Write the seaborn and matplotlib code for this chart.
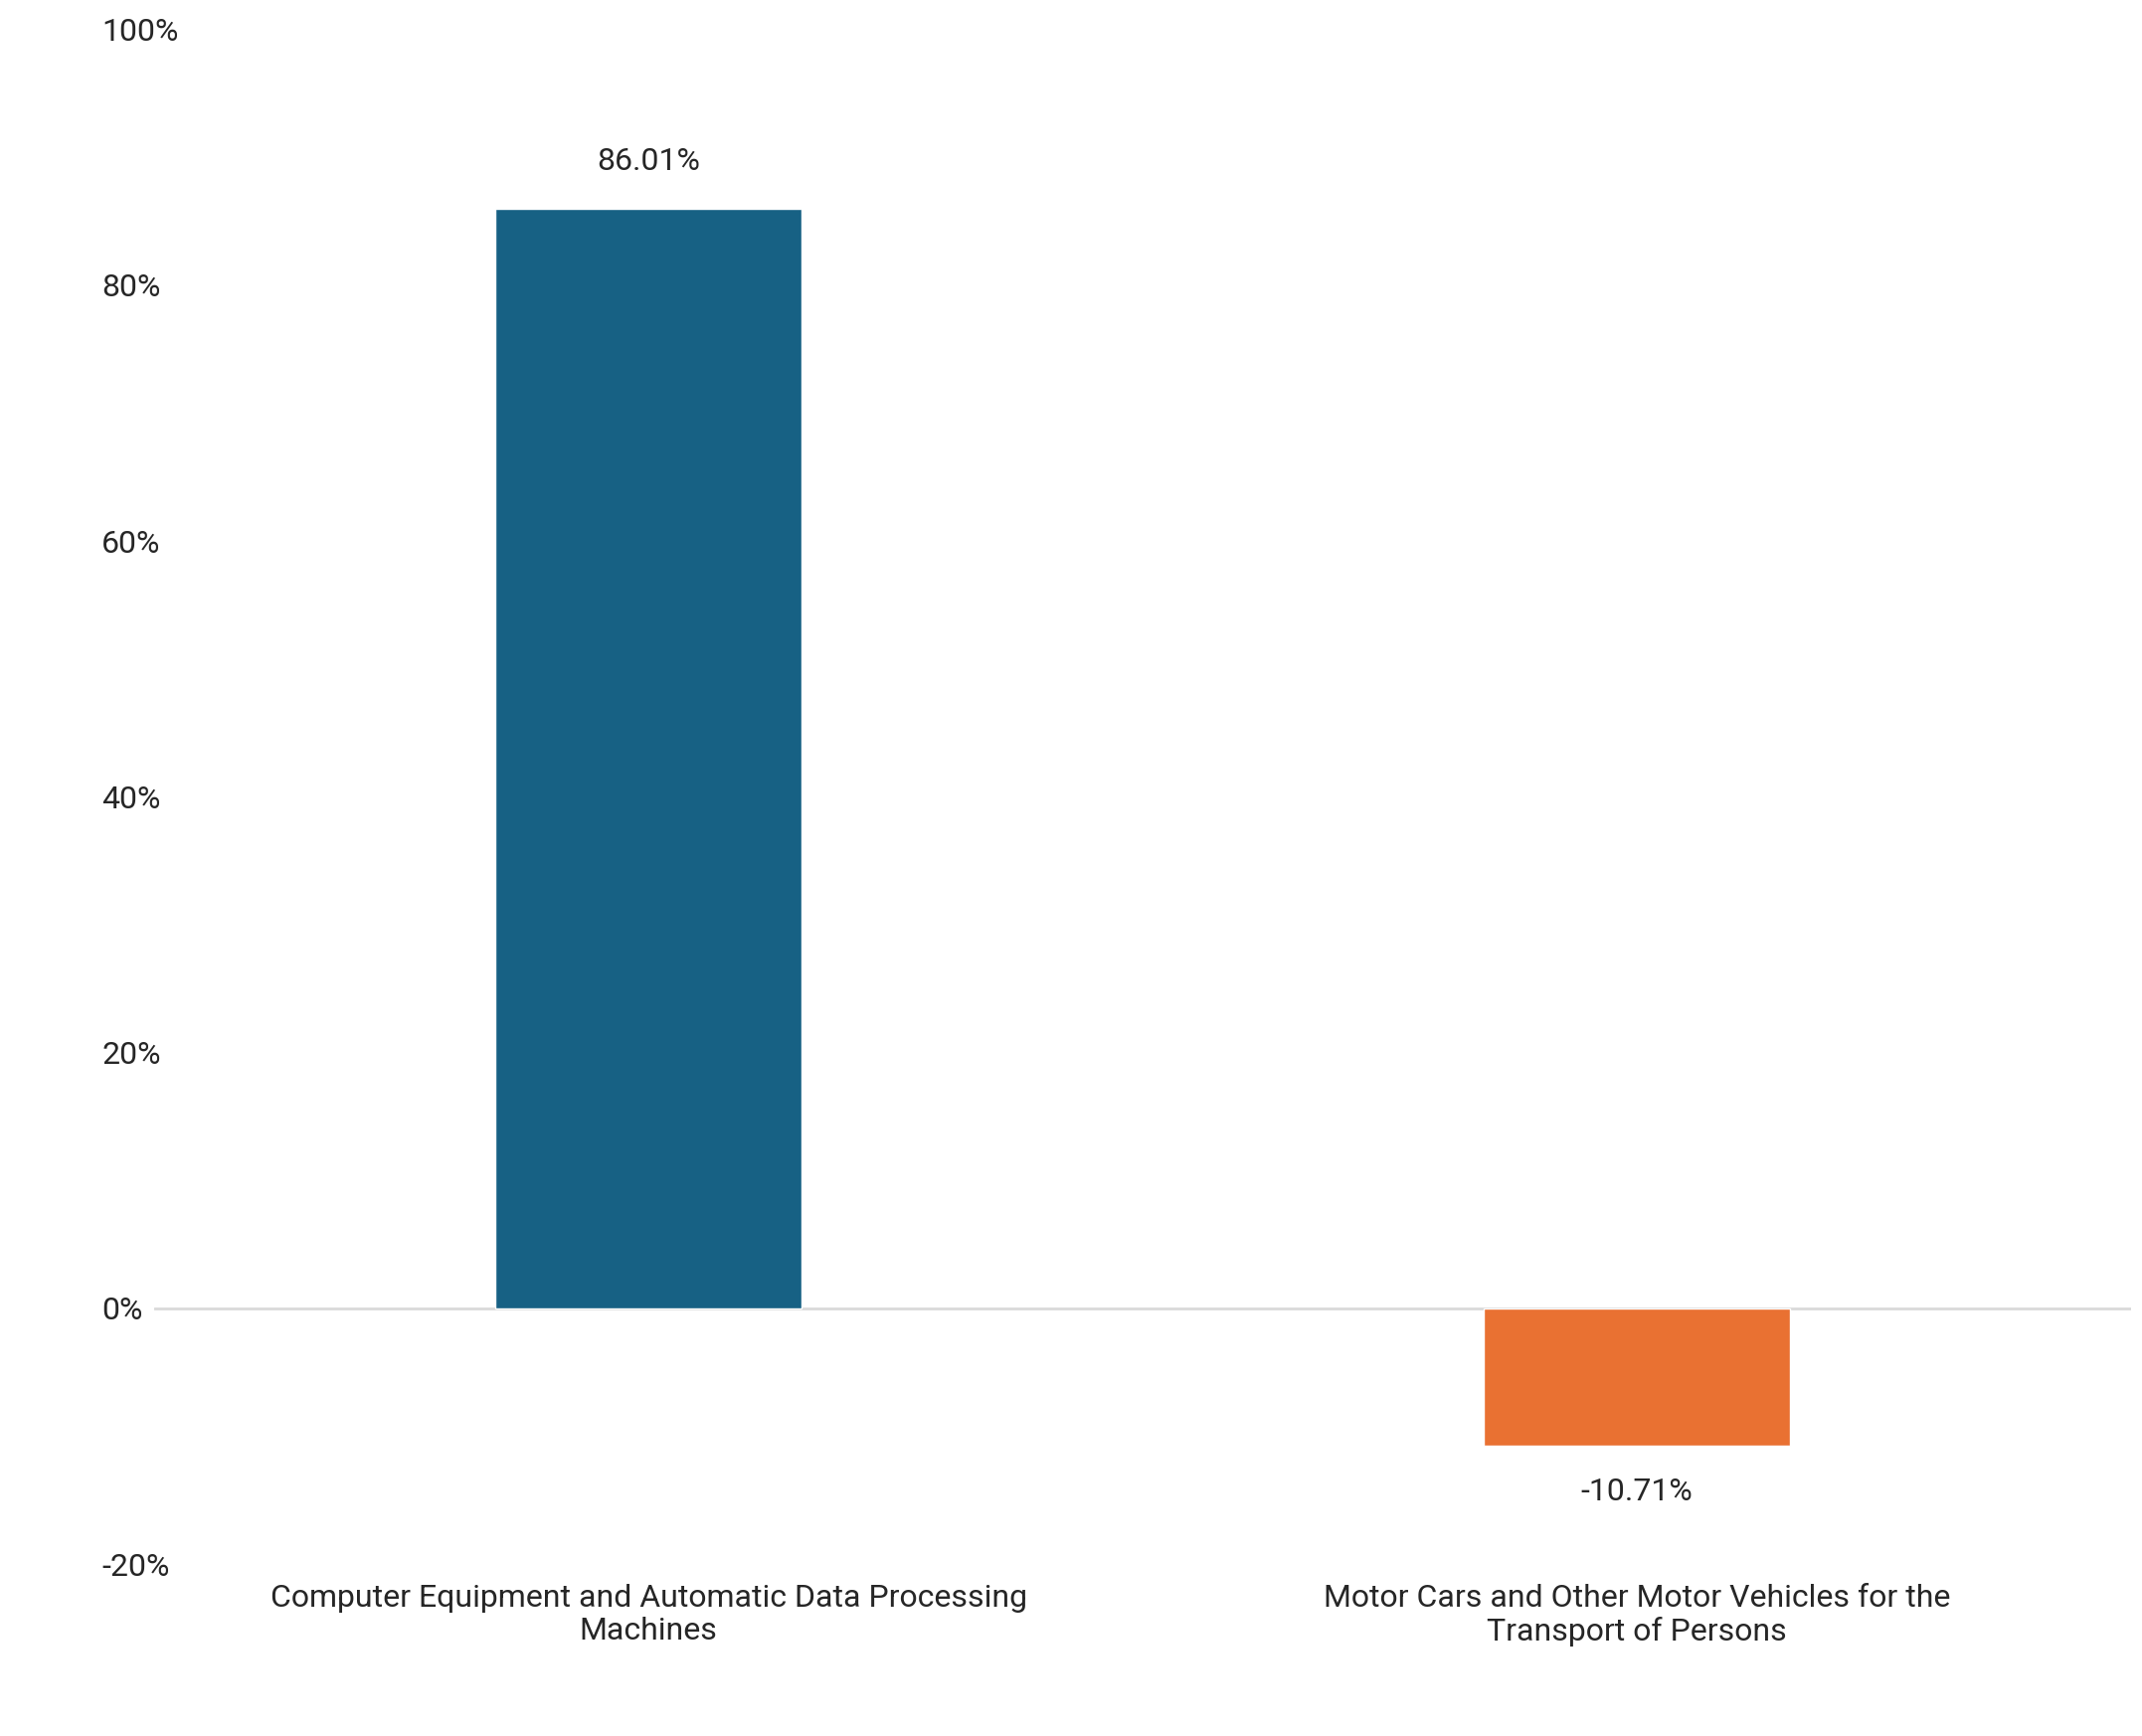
import matplotlib
matplotlib.use("Agg")
import matplotlib.pyplot as plt
import seaborn as sns
import pandas as pd

categories = ["Computer Equipment and Automatic Data Processing\nMachines",
              "Motor Cars and Other Motor Vehicles for the\nTransport of Persons"]
values = [86.01, -10.71]
colors = ["#176184", "#E97132"]
yticks = [-20, 0, 20, 40, 60, 80, 100]

sns.set_theme(style="white")
plt.rcParams['font.family'] = ['Roboto', 'DejaVu Sans']

df = pd.DataFrame({"cat": categories, "val": values})
fig = plt.figure(figsize=(21.54, 17.46), dpi=100)
ax = fig.add_axes([0.072, 0.099, 0.923, 0.884])
sns.barplot(data=df, x="cat", y="val", hue="cat", palette=colors, width=0.31,
            legend=False, ax=ax, saturation=1)
ax.set_ylim(-20, 100)
ax.set_yticks(yticks)
ax.set_yticklabels([f"{t}%" for t in yticks], fontsize=23)
ax.tick_params(axis='x', labelsize=23, length=0, pad=14)
ax.tick_params(axis='y', length=0, pad=38)
for lab in ax.get_yticklabels():
    lab.set_horizontalalignment('left')
ax.set_xlabel(""); ax.set_ylabel("")
for s in ax.spines.values():
    s.set_visible(False)
ax.axhline(0, color="#d9d9d9", lw=2, zorder=0)
for i, v in enumerate(values):
    off = 2.5 if v > 0 else -2.5
    ax.text(i, v + off, f"{v:.2f}%", ha="center", va="bottom" if v > 0 else "top", fontsize=23)
fig.savefig("out.png", dpi=100)
